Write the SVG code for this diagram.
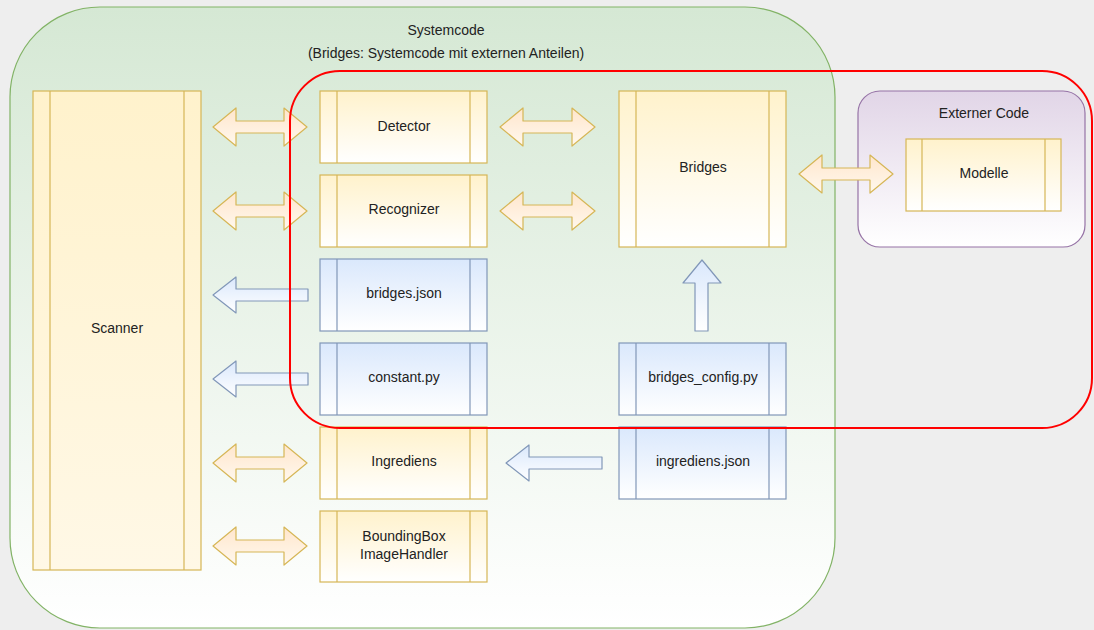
<svg xmlns="http://www.w3.org/2000/svg" width="1094" height="630" viewBox="0 0 1094 630">
<defs>
<linearGradient id="gGreen" x1="0" y1="0" x2="0" y2="1"><stop offset="0" stop-color="#d5e8d4"/><stop offset="1" stop-color="#ffffff"/></linearGradient>
<linearGradient id="gPurple" x1="0" y1="0" x2="0" y2="1"><stop offset="0" stop-color="#e1d5e7"/><stop offset="1" stop-color="#ffffff"/></linearGradient>
<linearGradient id="gYellow" x1="0" y1="0" x2="0" y2="1"><stop offset="0" stop-color="#fff2cc"/><stop offset="1" stop-color="#ffffff"/></linearGradient>
<linearGradient id="gYellowTall" x1="0" y1="0" x2="0" y2="1"><stop offset="0" stop-color="#fff2cc"/><stop offset="1" stop-color="#fff8e6"/></linearGradient>
<linearGradient id="gBlue" x1="0" y1="0" x2="0" y2="1"><stop offset="0" stop-color="#dae8fc"/><stop offset="1" stop-color="#ffffff"/></linearGradient>
<linearGradient id="gArrowY" x1="0" y1="0" x2="0" y2="1"><stop offset="0" stop-color="#ffe6cc"/><stop offset="1" stop-color="#fff8ee"/></linearGradient>
<linearGradient id="gArrowB" x1="0" y1="0" x2="0" y2="1"><stop offset="0" stop-color="#dae8fc"/><stop offset="1" stop-color="#ffffff"/></linearGradient>
</defs>
<style>
text{font-family:"Liberation Sans",Arial,sans-serif;font-size:14px;fill:#222;text-anchor:middle}
.y{fill:url(#gYellow);stroke:#d6b656;stroke-width:1.2}
.b{fill:url(#gBlue);stroke:#8197b8;stroke-width:1.2}
.ly{stroke:#d6b656;stroke-width:1.2}
.lb{stroke:#8197b8;stroke-width:1.2}
.ay{fill:url(#gArrowY);stroke:#d6b656;stroke-width:1.2;stroke-linejoin:round}
.ab{fill:url(#gArrowB);stroke:#8197b8;stroke-width:1.2;stroke-linejoin:round}
</style>
<rect x="0" y="0" width="1094" height="630" fill="#eeeeee"/>
<g id="systemcode">
<rect x="10" y="7" width="825" height="621" rx="90" ry="90" fill="url(#gGreen)" stroke="#82b366" stroke-width="1.2"/>
<text x="446" y="35">Systemcode</text>
<text x="446" y="58">(Bridges: Systemcode mit externen Anteilen)</text>
</g>
<g id="externer-code">
<rect x="858" y="91" width="227" height="156" rx="22" ry="22" fill="url(#gPurple)" stroke="#9673a6" stroke-width="1.2"/>
<text x="984" y="118">Externer Code</text>
</g>
<g id="scanner">
<rect x="33" y="91" width="168" height="479" fill="url(#gYellowTall)" stroke="#d6b656" stroke-width="1.2"/>
<line class="ly" x1="50" y1="91" x2="50" y2="570"/><line class="ly" x1="184" y1="91" x2="184" y2="570"/>
<text x="117" y="333">Scanner</text>
</g>
<g id="detector">
<rect class="y" x="320" y="91" width="167" height="72"/>
<line class="ly" x1="337" y1="91" x2="337" y2="163"/><line class="ly" x1="470" y1="91" x2="470" y2="163"/>
<text x="404" y="131">Detector</text>
</g>
<g id="recognizer">
<rect class="y" x="320" y="175" width="167" height="72"/>
<line class="ly" x1="337" y1="175" x2="337" y2="247"/><line class="ly" x1="470" y1="175" x2="470" y2="247"/>
<text x="404" y="214">Recognizer</text>
</g>
<g id="bridges-json">
<rect class="b" x="320" y="259" width="167" height="72"/>
<line class="lb" x1="337" y1="259" x2="337" y2="331"/><line class="lb" x1="470" y1="259" x2="470" y2="331"/>
<text x="404" y="298">bridges.json</text>
</g>
<g id="constant-py">
<rect class="b" x="320" y="343" width="167" height="72"/>
<line class="lb" x1="337" y1="343" x2="337" y2="415"/><line class="lb" x1="470" y1="343" x2="470" y2="415"/>
<text x="404" y="382">constant.py</text>
</g>
<g id="ingrediens">
<rect class="y" x="320" y="427" width="167" height="72"/>
<line class="ly" x1="337" y1="427" x2="337" y2="499"/><line class="ly" x1="470" y1="427" x2="470" y2="499"/>
<text x="404" y="466">Ingrediens</text>
</g>
<g id="boundingbox-imagehandler">
<rect class="y" x="320" y="511" width="167" height="71"/>
<line class="ly" x1="337" y1="511" x2="337" y2="582"/><line class="ly" x1="470" y1="511" x2="470" y2="582"/>
<text x="404" y="541">BoundingBox</text>
<text x="404" y="559">ImageHandler</text>
</g>
<g id="bridges">
<rect class="y" x="619" y="91" width="167" height="156"/>
<line class="ly" x1="636" y1="91" x2="636" y2="247"/><line class="ly" x1="769" y1="91" x2="769" y2="247"/>
<text x="703" y="172">Bridges</text>
</g>
<g id="bridges-config-py">
<rect class="b" x="619" y="343" width="167" height="72"/>
<line class="lb" x1="636" y1="343" x2="636" y2="415"/><line class="lb" x1="769" y1="343" x2="769" y2="415"/>
<text x="703" y="382">bridges_config.py</text>
</g>
<g id="ingrediens-json">
<rect class="b" x="619" y="427" width="167" height="72"/>
<line class="lb" x1="636" y1="427" x2="636" y2="499"/><line class="lb" x1="769" y1="427" x2="769" y2="499"/>
<text x="703" y="466">ingrediens.json</text>
</g>
<g id="modelle">
<rect class="y" x="906" y="139" width="155" height="72"/>
<line class="ly" x1="922" y1="139" x2="922" y2="211"/><line class="ly" x1="1045" y1="139" x2="1045" y2="211"/>
<text x="984" y="178">Modelle</text>
</g>
<g id="connectors">
<path class="ay" d="M213,127 L236,108 L236,121 L284,121 L284,108 L307,127 L284,146 L284,133 L236,133 L236,146 Z"/>
<path class="ay" d="M213,211 L236,192 L236,205 L284,205 L284,192 L307,211 L284,230 L284,217 L236,217 L236,230 Z"/>
<path class="ay" d="M213,463 L236,444 L236,457 L284,457 L284,444 L307,463 L284,482 L284,469 L236,469 L236,482 Z"/>
<path class="ay" d="M213,546 L236,527 L236,540 L284,540 L284,527 L307,546 L284,565 L284,552 L236,552 L236,565 Z"/>
<path class="ay" d="M500,127 L523,108 L523,121 L572,121 L572,108 L595,127 L572,146 L572,133 L523,133 L523,146 Z"/>
<path class="ay" d="M500,211 L523,192 L523,205 L572,205 L572,192 L595,211 L572,230 L572,217 L523,217 L523,230 Z"/>
<path class="ay" d="M799,174 L822,155 L822,168 L870,168 L870,155 L893,174 L870,193 L870,180 L822,180 L822,193 Z"/>
<path class="ab" d="M213,295 L236,277 L236,289 L308,289 L308,301 L236,301 L236,313 Z"/>
<path class="ab" d="M213,379 L236,361 L236,373 L308,373 L308,385 L236,385 L236,397 Z"/>
<path class="ab" d="M506,463 L529,445 L529,457 L602,457 L602,469 L529,469 L529,481 Z"/>
<path class="ab" d="M702,260 L721,283 L708,283 L708,331 L695,331 L695,283 L683,283 Z"/>
</g>
<g id="bridges-scope">
<rect x="290" y="71" width="802" height="357" rx="50" ry="50" fill="none" stroke="#ff0000" stroke-width="2"/>
</g>
</svg>
